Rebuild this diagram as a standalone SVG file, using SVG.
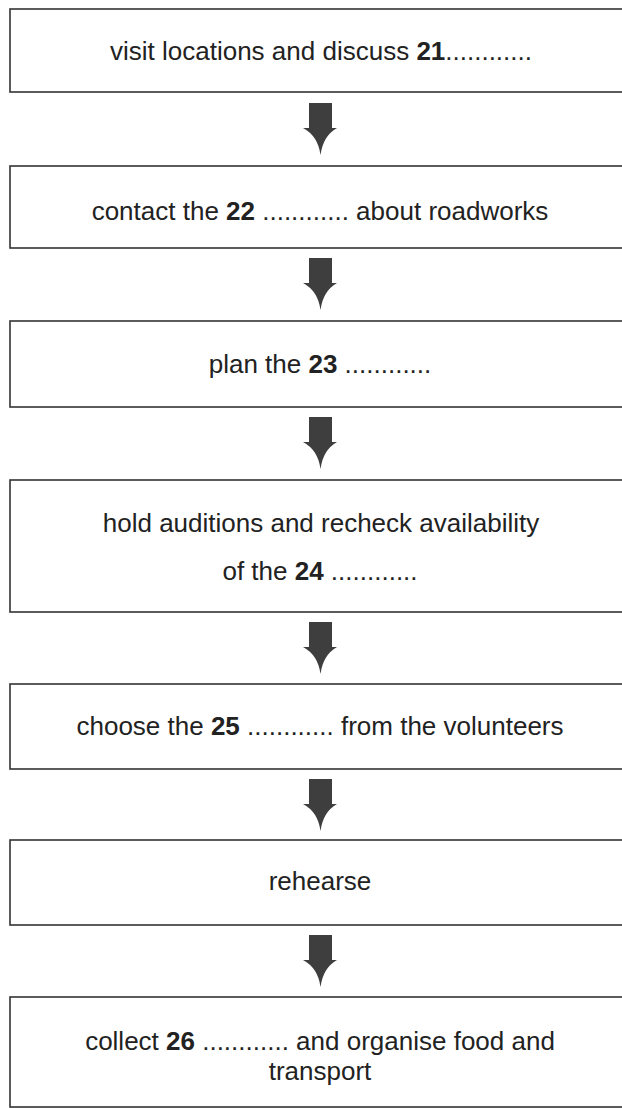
<svg xmlns="http://www.w3.org/2000/svg" width="622" height="1108" viewBox="0 0 622 1108">
<style>
.box{fill:#fff;stroke:#333;stroke-width:1.6}
.t{font-family:"Liberation Sans",Arial,Helvetica,sans-serif;font-size:26px;fill:#222;text-anchor:middle}
.b{font-weight:bold}
.arr{fill:#3e3e3e}
</style>
<defs>
<path id="arrow" d="M309,0 H332 V25 H337 Q323,33 320.5,52 Q318,33 303,25 H309 Z"/>
</defs>
<rect width="622" height="1108" fill="#fff"/>
<g id="n1"><rect class="box" x="10" y="9" width="640" height="83"/>
<text class="t" x="321" y="60">visit locations and discuss <tspan class="b">21</tspan>............</text></g>
<g id="n2"><rect class="box" x="10" y="166" width="640" height="82"/>
<text class="t" x="320" y="220">contact the <tspan class="b">22</tspan> ............ about roadworks</text></g>
<g id="n3"><rect class="box" x="10" y="321" width="640" height="86"/>
<text class="t" x="320" y="373">plan the <tspan class="b">23</tspan> ............</text></g>
<g id="n4"><rect class="box" x="10" y="480" width="640" height="132"/>
<text class="t" x="321" y="532">hold auditions and recheck availability</text>
<text class="t" x="320" y="580">of the <tspan class="b">24</tspan> ............</text></g>
<g id="n5"><rect class="box" x="10" y="684" width="640" height="85"/>
<text class="t" x="320" y="735">choose the <tspan class="b">25</tspan> ............ from the volunteers</text></g>
<g id="n6"><rect class="box" x="10" y="840" width="640" height="85"/>
<text class="t" x="320" y="890">rehearse</text></g>
<g id="n7"><rect class="box" x="10" y="997" width="640" height="110"/>
<text class="t" x="320" y="1050">collect <tspan class="b">26</tspan> ............ and organise food and</text>
<text class="t" x="320" y="1080">transport</text></g>
<g id="connectors" class="arr">
<use href="#arrow" y="103"/>
<use href="#arrow" y="258"/>
<use href="#arrow" y="417"/>
<use href="#arrow" y="622"/>
<use href="#arrow" y="779"/>
<use href="#arrow" y="935"/>
</g>
</svg>
